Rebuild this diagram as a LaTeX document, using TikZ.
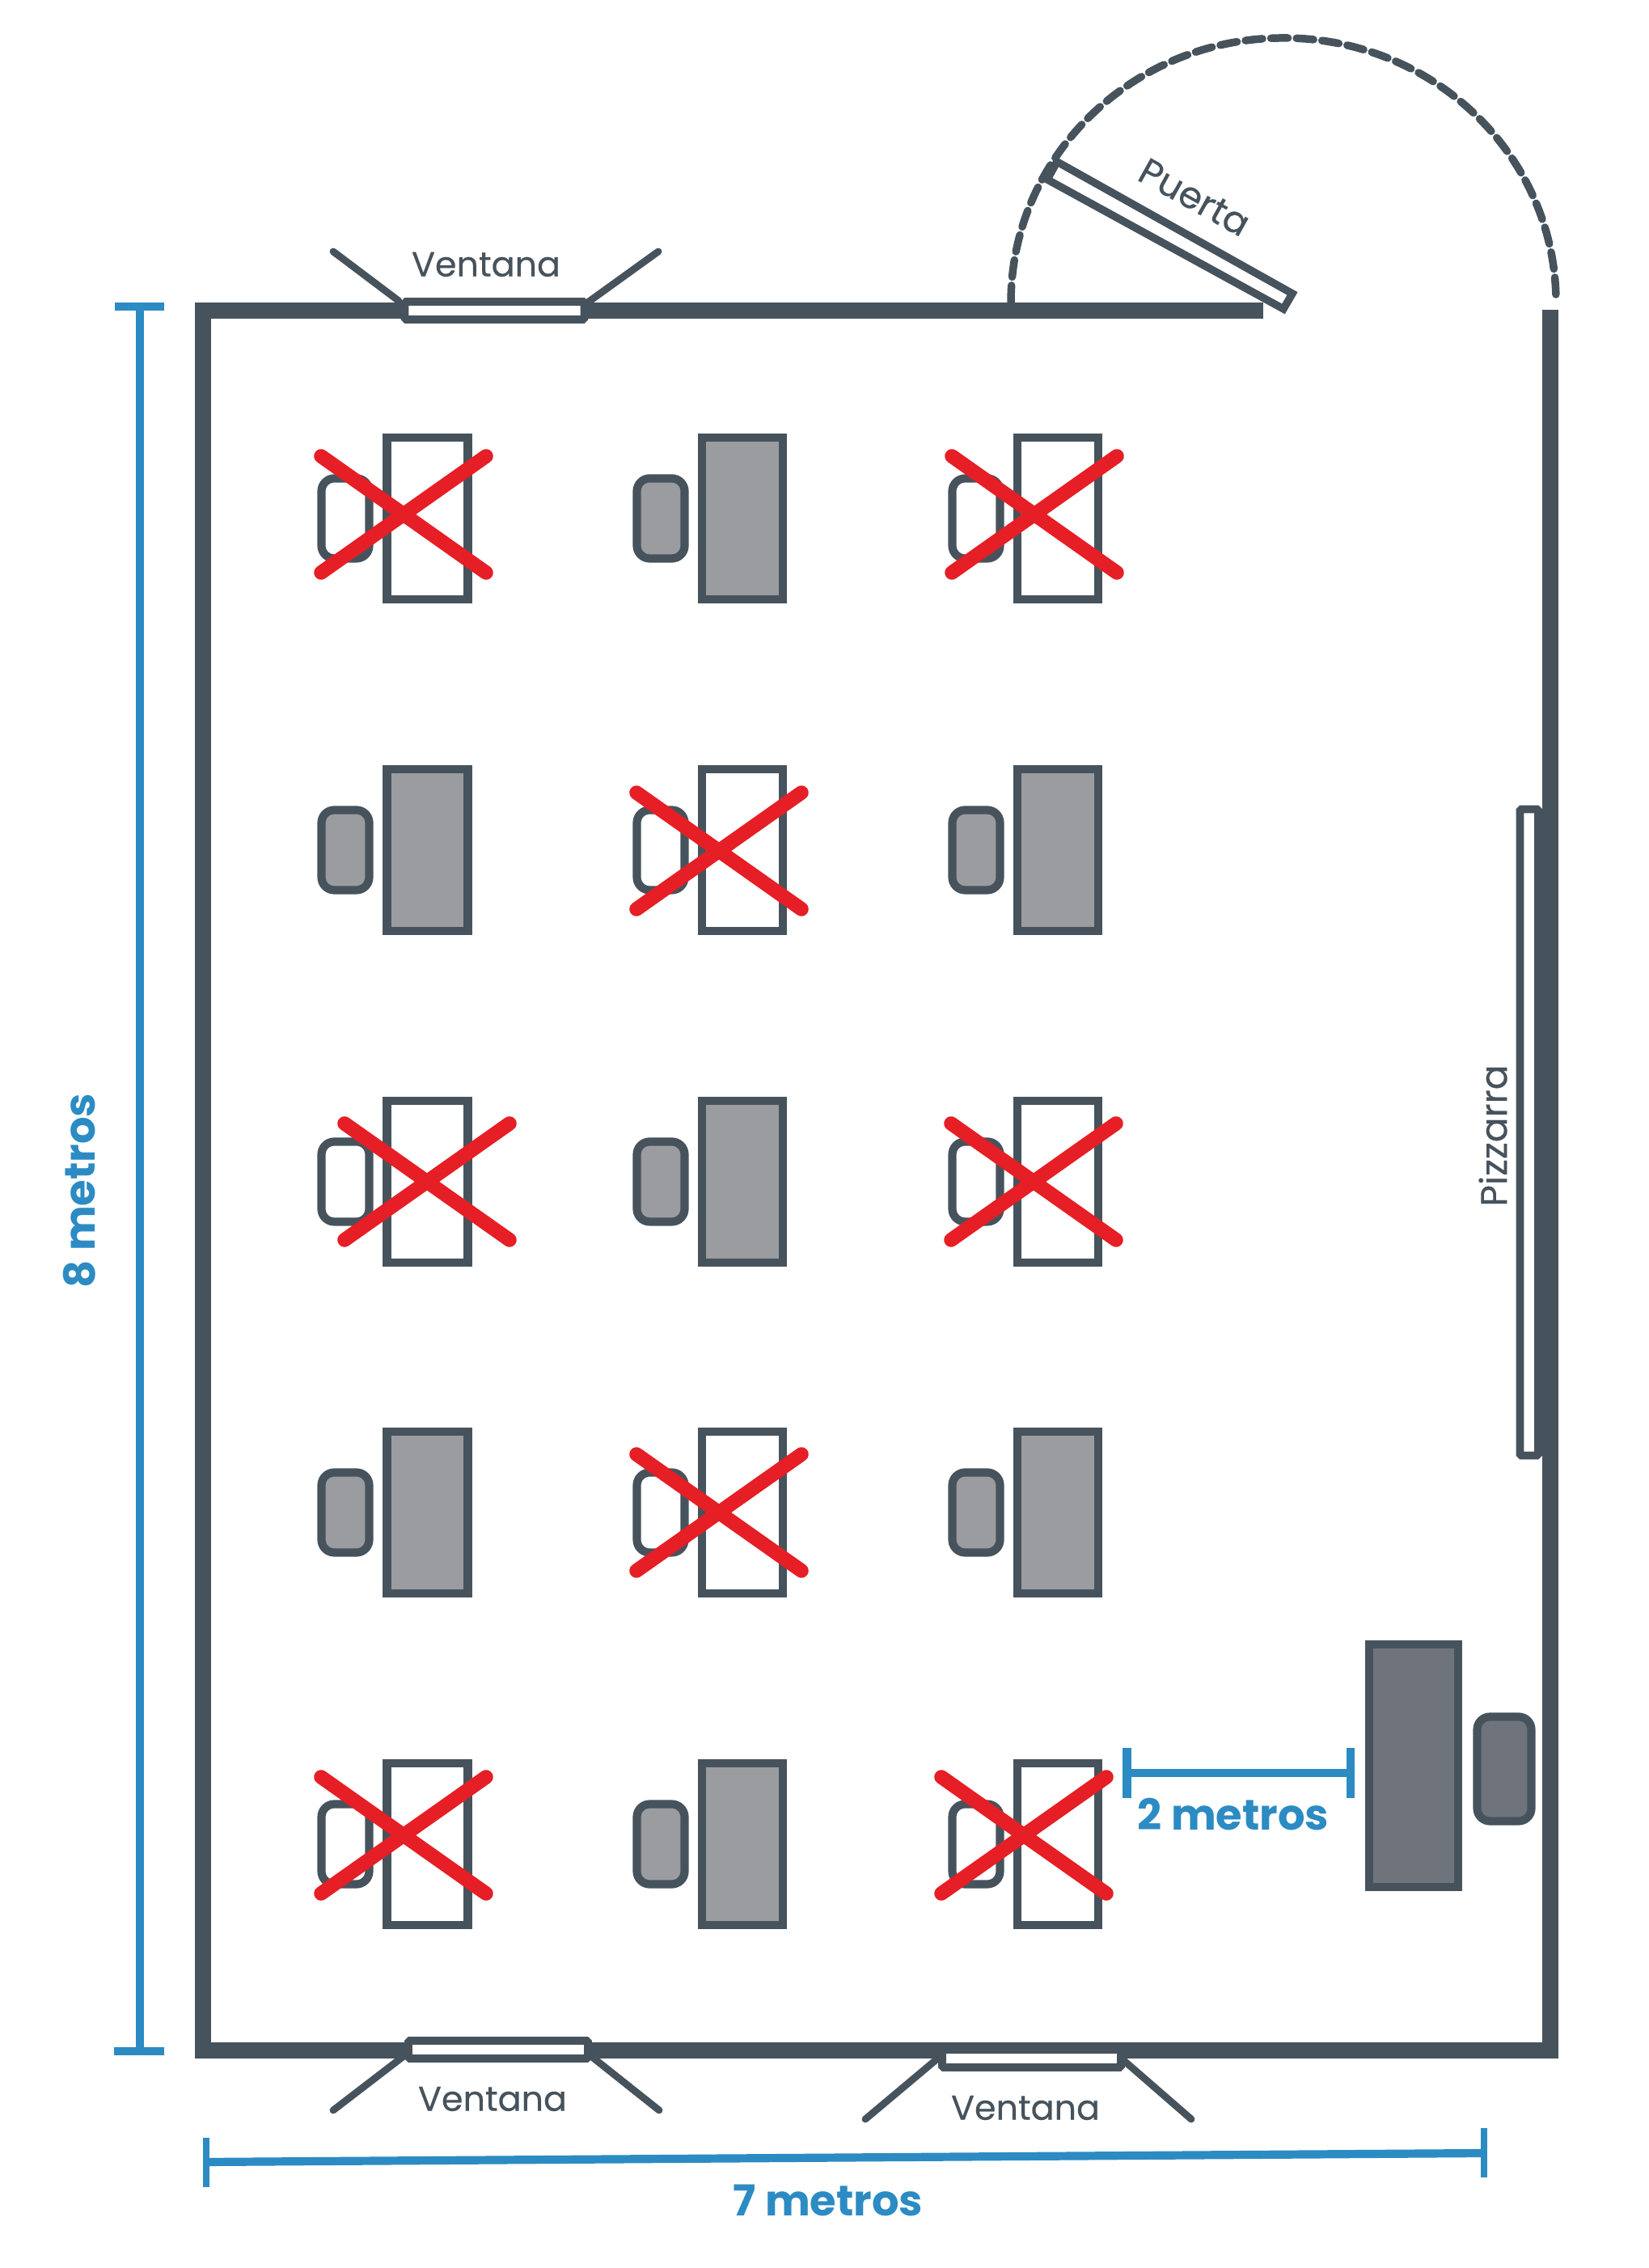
\documentclass[tikz,border=0pt]{standalone}
\usepackage{fontspec}
\setmainfont{Poppins}
\newfontfamily\roomfont[FakeBold=0.35]{Poppins}
\usepackage{tikz}

\definecolor{wallgray}{HTML}{47535C}
\definecolor{deskgray}{HTML}{9A9CA0}
\definecolor{teachgray}{HTML}{6F747C}
\definecolor{dimblue}{HTML}{2C8BC3}
\definecolor{crossred}{HTML}{E61E25}

\tikzset{
  wall/.style={line width=5.7pt, wallgray},
  pane/.style={line width=2.8pt, draw=wallgray, fill=white, rounded corners=0.5pt},
  flap/.style={line width=2.5pt, wallgray, line cap=round},
  desk/.style={line width=2.9pt, draw=wallgray, fill=#1},
  desk/.default=white,
  chair/.style={line width=2.9pt, draw=wallgray, fill=#1, rounded corners=4.5pt},
  chair/.default=white,
  crossmark/.style={line width=5pt, crossred, line cap=round},
  dimline/.style={line width=2.9pt, dimblue},
  dimtext/.style={text=dimblue, font=\bfseries\fontsize{15}{18}\selectfont, inner sep=0pt},
  roomtext/.style={text=wallgray, font=\roomfont\fontsize{12.2}{14}\selectfont, inner sep=0pt},
  widetext/.style={text=wallgray, font=\roomfont\fontsize{13}{15}\selectfont, inner sep=0pt}
}

\begin{document}
\begin{tikzpicture}
    \useasboundingbox (0,0) rectangle (20.38,28.04);

    % Walls
    \draw[wall] (2.51,24.10) -- (2.51,2.69) -- (19.17,2.69) -- (19.17,24.21);
    \draw[wall] (2.41,24.20) -- (15.62,24.20);

    % Door and its swing
    \draw[line width=2.7pt, wallgray, line cap=round, dash pattern=on 6pt off 3pt]
        (12.50,24.30) arc[start angle=180, end angle=0, x radius=3.37, y radius=3.27];
    \draw[line width=2.7pt, draw=wallgray, fill=white] (13.07,26.04) -- (12.95,25.82) -- (15.87,24.22) -- (15.98,24.41) -- cycle;
    \node[widetext, rotate=-29] (doorlabel) at (14.77,25.60) {Puerta};

    % Top window
    \draw[pane] (5.005,24.09) rectangle (7.225,24.31);
    \draw[flap] (4.93,24.32) -- (4.12,24.93);
    \draw[flap] (7.28,24.31) -- (8.14,24.93);
    \node[roomtext] (windowtop) at (6.01,24.77) {Ventana};

    % Bottom windows
    \draw[pane] (5.05,2.59) rectangle (7.27,2.81);
    \draw[flap] (4.98,2.61) -- (4.12,1.95);
    \draw[flap] (7.32,2.61) -- (8.15,1.95);
    \node[roomtext] (windowleft) at (6.09,2.09) {Ventana};
    \draw[pane] (11.65,2.48) rectangle (13.86,2.70);
    \draw[flap] (11.57,2.57) -- (10.70,1.84);
    \draw[flap] (13.89,2.57) -- (14.73,1.84);
    \node[roomtext] (windowright) at (12.68,1.98) {Ventana};

    % Blackboard
    \draw[pane] (18.795,10.045) rectangle (19.02,18.035);
    \node[widetext, rotate=90] (boardlabel) at (18.46,14.00) {Pizzarra};

    % Row 1
    \draw[desk] (4.785,20.63) rectangle (5.785,22.63);
    \draw[chair] (3.975,21.135) rectangle (4.565,22.125);
    \draw[desk=deskgray] (8.68,20.63) rectangle (9.68,22.63);
    \draw[chair=deskgray] (7.875,21.135) rectangle (8.465,22.125);
    \draw[desk] (12.58,20.63) rectangle (13.58,22.63);
    \draw[chair] (11.775,21.135) rectangle (12.365,22.125);

    % Row 2
    \draw[desk=deskgray] (4.785,16.53) rectangle (5.785,18.53);
    \draw[chair=deskgray] (3.975,17.035) rectangle (4.565,18.025);
    \draw[desk] (8.68,16.53) rectangle (9.68,18.53);
    \draw[chair] (7.875,17.035) rectangle (8.465,18.025);
    \draw[desk=deskgray] (12.58,16.53) rectangle (13.58,18.53);
    \draw[chair=deskgray] (11.775,17.035) rectangle (12.365,18.025);

    % Row 3
    \draw[desk] (4.785,12.43) rectangle (5.785,14.43);
    \draw[chair] (3.975,12.935) rectangle (4.565,13.925);
    \draw[desk=deskgray] (8.68,12.43) rectangle (9.68,14.43);
    \draw[chair=deskgray] (7.875,12.935) rectangle (8.465,13.925);
    \draw[desk] (12.58,12.43) rectangle (13.58,14.43);
    \draw[chair] (11.775,12.935) rectangle (12.365,13.925);

    % Row 4
    \draw[desk=deskgray] (4.785,8.34) rectangle (5.785,10.34);
    \draw[chair=deskgray] (3.975,8.845) rectangle (4.565,9.835);
    \draw[desk] (8.68,8.34) rectangle (9.68,10.34);
    \draw[chair] (7.875,8.845) rectangle (8.465,9.835);
    \draw[desk=deskgray] (12.58,8.34) rectangle (13.58,10.34);
    \draw[chair=deskgray] (11.775,8.845) rectangle (12.365,9.835);

    % Row 5
    \draw[desk] (4.785,4.24) rectangle (5.785,6.24);
    \draw[chair] (3.975,4.745) rectangle (4.565,5.735);
    \draw[desk=deskgray] (8.68,4.24) rectangle (9.68,6.24);
    \draw[chair=deskgray] (7.875,4.745) rectangle (8.465,5.735);
    \draw[desk] (12.58,4.24) rectangle (13.58,6.24);
    \draw[chair] (11.775,4.745) rectangle (12.365,5.735);

    % Crossed out places
    \draw[crossmark] (3.97,22.40) -- ++(2.04,-1.44) (3.97,20.96) -- ++(2.04,1.44);
    \draw[crossmark] (11.77,22.40) -- ++(2.04,-1.44) (11.77,20.96) -- ++(2.04,1.44);
    \draw[crossmark] (7.87,18.24) -- ++(2.04,-1.44) (7.87,16.80) -- ++(2.04,1.44);
    \draw[crossmark] (4.26,14.15) -- ++(2.04,-1.44) (4.26,12.71) -- ++(2.04,1.44);
    \draw[crossmark] (11.76,14.15) -- ++(2.04,-1.44) (11.76,12.71) -- ++(2.04,1.44);
    \draw[crossmark] (7.87,10.06) -- ++(2.04,-1.44) (7.87,8.62) -- ++(2.04,1.44);
    \draw[crossmark] (3.97,6.07) -- ++(2.04,-1.44) (3.97,4.63) -- ++(2.04,1.44);
    \draw[crossmark] (11.64,6.07) -- ++(2.04,-1.44) (11.64,4.63) -- ++(2.04,1.44);

    % Teacher
    \draw[desk=teachgray] (16.93,4.71) rectangle (18.03,7.71);
    \draw[chair=teachgray] (18.265,5.525) rectangle (18.935,6.815);

    % Dimensions
    \draw[dimline] (1.73,24.25) -- (1.73,2.68);
    \draw[dimline] (1.42,24.25) -- (2.03,24.25);
    \draw[dimline] (1.41,2.68) -- (2.03,2.68);
    \node[dimtext, rotate=90] (heightlabel) at (0.98,13.32) {8 metros};

    \draw[dimline] (2.55,1.31) -- (18.35,1.42);
    \draw[dimline, line width=2.2pt] (2.55,1.61) -- (2.55,1.00);
    \draw[dimline, line width=2.2pt] (18.35,1.73) -- (18.35,1.12);
    \node[dimtext] (widthlabel) at (10.24,0.84) {7 metros};

    \draw[dimline] (13.935,6.12) -- (16.70,6.12);
    \draw[dimline] (13.935,6.43) -- (13.935,5.81);
    \draw[dimline] (16.70,6.43) -- (16.70,5.81);
    \node[dimtext] (gaplabel) at (15.25,5.61) {2 metros};
\end{tikzpicture}
\end{document}
